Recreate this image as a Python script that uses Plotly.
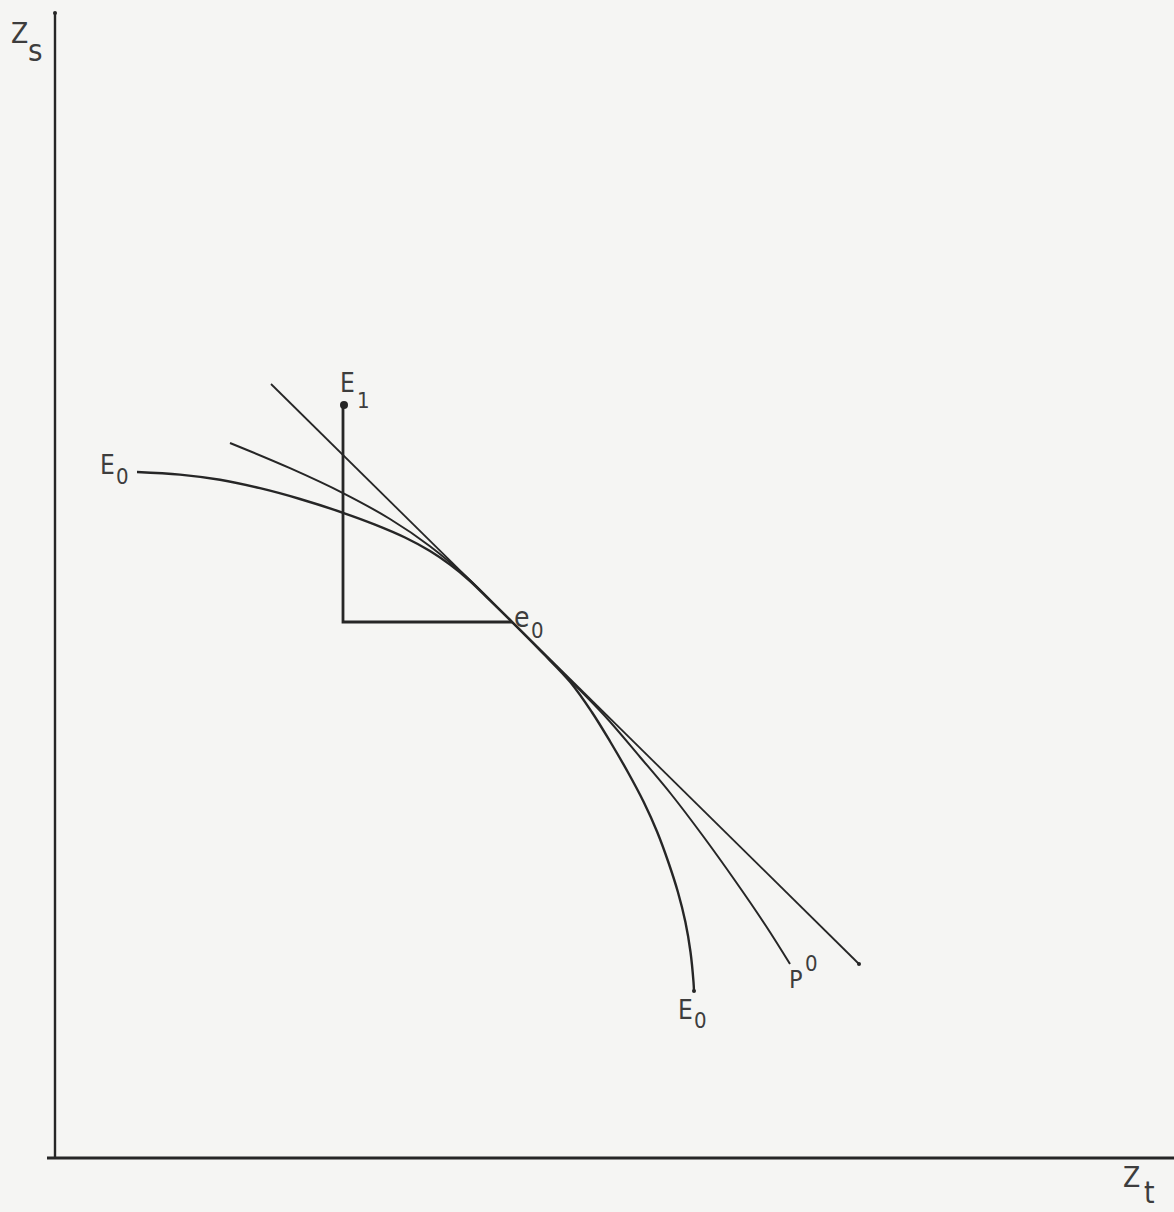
import plotly.graph_objects as go

# ---- data (diagram coordinates, origin at the axes' corner) ----
# E0 transformation curve (upper branch, tangency point e0, lower branch)
e0_curve_x = [82, 125, 165, 205, 245, 288, 320, 350, 375, 395, 415, 435, 457,
              486.7, 515.2, 536.8, 555.4, 572.8, 588.7, 602.2, 613.3, 622.9, 630.4, 635.5, 638.5, 639]
e0_curve_y = [686, 683.4, 678.2, 669.8, 659, 645.2, 633.4, 620.5, 607, 593.4, 577, 557.5, 536,
              506, 476, 446, 416, 386, 356, 326, 296, 266, 236, 206, 176, 167]

# P0 curve
p0_curve_x = [175, 235, 288, 335, 375, 410, 457, 504, 549, 585, 616, 648, 681, 711, 735]
p0_curve_y = [715, 689.8, 664.9, 639, 611.8, 582.4, 536, 489, 443, 401, 364, 322, 276, 232, 194]

# straight tangent line through e0
tangent_x = [216, 804]
tangent_y = [774, 194]

e0_point = (457, 536)
e1_point = (289, 753)
corner_x = 288

yaxis_top = 1145
xaxis_left = -8
xaxis_right = 1119

# label texts: (main, sub/superscript)
label_texts = [("Z", "s"), ("Z", "t"), ("E", "0"), ("E", "1"), ("e", "0"), ("E", "0"), ("P", "0")]

INK = "#262626"
TXT = "#3d3d3d"
BG = "#f5f5f3"

fig = go.Figure()

# axes
fig.add_trace(go.Scatter(x=[0, 0], y=[0, yaxis_top], mode="lines",
                         line=dict(color=INK, width=2.4), hoverinfo="skip"))
fig.add_trace(go.Scatter(x=[xaxis_left, xaxis_right], y=[0, 0], mode="lines",
                         line=dict(color=INK, width=2.8), hoverinfo="skip"))

# tangent (price) line
fig.add_trace(go.Scatter(x=tangent_x, y=tangent_y, mode="lines",
                         line=dict(color=INK, width=1.8), hoverinfo="skip"))
# P0 curve
fig.add_trace(go.Scatter(x=p0_curve_x, y=p0_curve_y, mode="lines",
                         line=dict(color=INK, width=2, shape="spline", smoothing=1.0,
                                   simplify=False),
                         hoverinfo="skip"))
# E0 curve
fig.add_trace(go.Scatter(x=e0_curve_x, y=e0_curve_y, mode="lines",
                         line=dict(color=INK, width=2.4, shape="spline", smoothing=1.0,
                                   simplify=False),
                         hoverinfo="skip"))
# box: horizontal from corner to e0, vertical from corner up to E1
fig.add_trace(go.Scatter(x=[e0_point[0], corner_x, corner_x],
                         y=[e0_point[1], e0_point[1], e1_point[1]], mode="lines",
                         line=dict(color=INK, width=2.8), hoverinfo="skip"))
# E1 dot
fig.add_trace(go.Scatter(x=[e1_point[0]], y=[e1_point[1]], mode="markers",
                         marker=dict(color=INK, size=8), hoverinfo="skip"))
# small end dots
fig.add_trace(go.Scatter(x=[tangent_x[1], e0_curve_x[-1], 0],
                         y=[tangent_y[1], e0_curve_y[-1], yaxis_top], mode="markers",
                         marker=dict(color=INK, size=4), hoverinfo="skip"))

# label placement: main (x, y, size), sub (x, y, size)
placement = [
    ((-35.5, 1125, 28), (-19.5, 1108, 31)),
    ((1076.5, -19.5, 28), (1094, -34, 30)),
    ((52, 693, 26), (67, 682, 22)),
    ((292.5, 775.5, 26), (308, 758, 22)),
    ((467, 541, 28), (482.5, 528, 22)),
    ((630, 148, 26), (645, 138, 22)),
    ((741, 179, 25), (756.5, 194.5, 22)),
]

FONT = "Liberation Sans Narrow, DejaVu Sans Condensed, Liberation Sans, sans-serif"
for (main, sub), ((mx, my, ms), (sx, sy, ss)) in zip(label_texts, placement):
    fig.add_annotation(x=mx, y=my, text=main, showarrow=False,
                       xanchor="center", yanchor="middle",
                       font=dict(family=FONT, size=ms, color=TXT))
    fig.add_annotation(x=sx, y=sy, text=sub, showarrow=False,
                       xanchor="center", yanchor="middle",
                       font=dict(family=FONT, size=ss, color=TXT))

fig.update_layout(
    width=1174, height=1212,
    margin=dict(l=0, r=0, t=0, b=0),
    paper_bgcolor=BG, plot_bgcolor=BG,
    showlegend=False,
    xaxis=dict(range=[-55, 1119], visible=False, fixedrange=True),
    yaxis=dict(range=[-54, 1158], visible=False, fixedrange=True),
)

fig.write_html(
    "out.html",
    config={"displayModeBar": False},
    post_script="document.body.style.margin='0';document.body.style.overflow='hidden';",
)
